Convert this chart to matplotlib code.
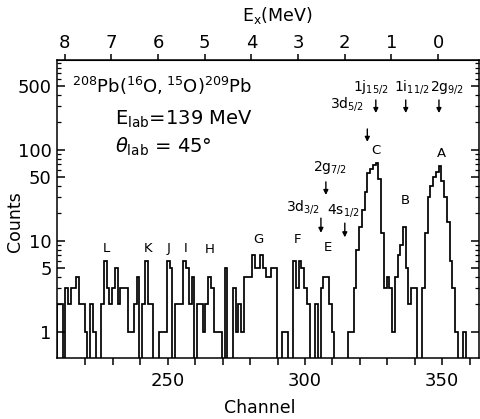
import numpy as np
import matplotlib
matplotlib.use('Agg')
import matplotlib.pyplot as plt
from matplotlib.ticker import FixedLocator, FixedFormatter, NullFormatter

# ---------------- data ----------------
channels = list(range(210, 364))
counts = [
    2, 2, 0, 3, 2, 3, 3, 4, 2, 2,          # 210-219
    1, 0, 2, 1, 0, 0, 2, 6, 3, 2,          # 220-229
    3, 5, 2, 3, 3, 3, 1, 1, 2, 4,          # 230-239
    0, 2, 6, 2, 2, 0, 0, 1, 1, 1,          # 240-249
    6, 5, 0, 2, 2, 2, 6, 5, 2, 4,          # 250-259
    0, 2, 2, 1, 2, 4, 3, 1, 1, 1,          # 260-269
    0, 5, 0, 0, 3, 1, 2, 1, 4, 4,          # 270-279
    4, 7, 5, 5, 7, 5, 4, 4, 5, 5,          # 280-289
    0, 0, 1, 1, 0, 0, 6, 3, 6, 5,          # 290-299
    3, 2, 0, 0, 2, 0, 3, 4, 4, 2,          # 300-309
    1, 0, 0, 0, 0, 0, 1, 1, 3, 8,          # 310-319
    14, 22, 34, 55, 62, 68, 71, 48, 12, 3, # 320-329
    4, 3, 1, 4, 7, 9, 14, 5, 2, 3,         # 330-339
    3, 0, 0, 3, 12, 30, 40, 50, 57, 66,    # 340-349
    45, 30, 16, 6, 3, 1, 0, 0, 1, 0,       # 350-359
    0, 0, 0, 0,                            # 360-363
]

peak_names = ['L', 'K', 'J', 'I', 'H', 'G', 'F', 'E', 'C', 'B', 'A']
peak_chan = [227.6, 242.8, 250.2, 256.5, 265.3, 282.9, 297.4, 308.4, 325.9, 336.4, 349.8]
peak_cnt = [8.3, 8.3, 8.3, 8.3, 8.1, 10.4, 10.2, 8.5, 99, 28, 92]

level_names = [r'$\mathregular{3d_{3/2}}$', r'$\mathregular{2g_{7/2}}$', r'$\mathregular{4s_{1/2}}$',
               r'$\mathregular{3d_{5/2}}$', r'$\mathregular{1j_{15/2}}$', r'$\mathregular{1i_{11/2}}$',
               r'$\mathregular{2g_{9/2}}$']
level_text_chan = [299.2, 309.0, 313.9, 315.4, 324.0, 338.8, 351.6]
level_text_cnt = [21.6, 58.3, 20.0, 287, 445, 445, 445]
level_arrow_chan = [305.8, 307.6, 314.5, 322.7, 325.8, 336.7, 348.8]
level_arrow_top = [17.7, 44.3, 15.6, 169, 352, 352, 352]
level_arrow_bot = [12.2, 31.8, 10.9, 122, 253, 253, 253]

ex_ticks = [0, 1, 2, 3, 4, 5, 6, 7, 8]
chan_ticks = list(range(220, 361, 10))
chan_ticklabels = ['' if t not in (250, 300, 350) else str(t) for t in chan_ticks]
y_major = [1, 5, 10, 50, 100, 500]
y_minor = [2, 3, 4, 6, 7, 8, 9, 20, 30, 40, 60, 70, 80, 90, 200, 300, 400, 600, 700, 800, 900]

# ---------------- figure ----------------
plt.rcParams['font.family'] = ['DejaVu Sans']
fig = plt.figure(figsize=(4.8, 4.19), dpi=100)
ax = fig.add_axes([0.119, 0.1456, 0.879, 0.7112])

vals = np.array(counts, dtype=float)
plot_vals = np.where(vals > 0, vals, 1e-3)
edges = np.append(np.array(channels, dtype=float), channels[-1] + 1) - 0.3
ax.stairs(plot_vals, edges, baseline=1e-3, color='black', linewidth=1.25)

ax.set_yscale('log')
ax.set_xlim(209.7, 363.4)
ax.set_ylim(0.514, 968)

ax.xaxis.set_major_locator(FixedLocator(chan_ticks))
ax.xaxis.set_major_formatter(FixedFormatter(chan_ticklabels))
ax.yaxis.set_major_locator(FixedLocator(y_major))
ax.yaxis.set_major_formatter(FixedFormatter([str(v) for v in y_major]))
ax.yaxis.set_minor_locator(FixedLocator(y_minor))
ax.yaxis.set_minor_formatter(NullFormatter())

ax.tick_params(axis='x', which='major', direction='out', length=5, width=1.1,
               labelsize=13, pad=5, top=False)
ax.tick_params(axis='y', which='major', direction='in', length=5.5, width=1.1,
               labelsize=13, pad=4, right=True)
ax.tick_params(axis='y', which='minor', direction='in', length=3, width=0.9, right=True)
for s in ax.spines.values():
    s.set_linewidth(1.1)

def ch2e(c):
    return (348.5 - np.asarray(c, dtype=float)) / 17.0

def e2ch(e):
    return 348.5 - 17.0 * np.asarray(e, dtype=float)

sec = ax.secondary_xaxis('top', functions=(ch2e, e2ch))
sec.set_xticks(ex_ticks)
sec.set_xticklabels([str(v) for v in ex_ticks])
sec.tick_params(direction='out', length=4, width=1.1, labelsize=13, pad=2)

fig.text(0.577, 0.962, r'$\mathregular{E_x}$(MeV)', ha='center', va='center', fontsize=12.5)
fig.text(0.542, 0.026, 'Channel', ha='center', va='center', fontsize=12.5)
fig.text(0.031, 0.47, 'Counts', ha='center', va='center', rotation=90, fontsize=12.5)

# reaction annotations
ax.text(0.035, 0.95, r'$\mathregular{^{208}Pb(^{16}O,^{15}O)^{209}Pb}$', transform=ax.transAxes,
        ha='left', va='top', fontsize=13)
ax.text(0.137, 0.835, r'$\mathregular{E_{lab}}$=139 MeV', transform=ax.transAxes,
        ha='left', va='top', fontsize=14)
ax.text(0.137, 0.745, r'$\theta_{\mathregular{lab}}$ = 45°', transform=ax.transAxes,
        ha='left', va='top', fontsize=14)

for name, cx, cy in zip(peak_names, peak_chan, peak_cnt):
    ax.text(cx, cy, name, ha='center', va='center', fontsize=9.5)

for name, tx, ty, axx, at, ab in zip(level_names, level_text_chan, level_text_cnt,
                                     level_arrow_chan, level_arrow_top, level_arrow_bot):
    ax.text(tx, ty, name, ha='center', va='baseline', fontsize=10)
    ax.annotate('', xy=(axx, ab), xytext=(axx, at),
                arrowprops=dict(arrowstyle='-|>', color='black', lw=1.0,
                                mutation_scale=7, shrinkA=0, shrinkB=0))

fig.savefig('out.png', dpi=100)
